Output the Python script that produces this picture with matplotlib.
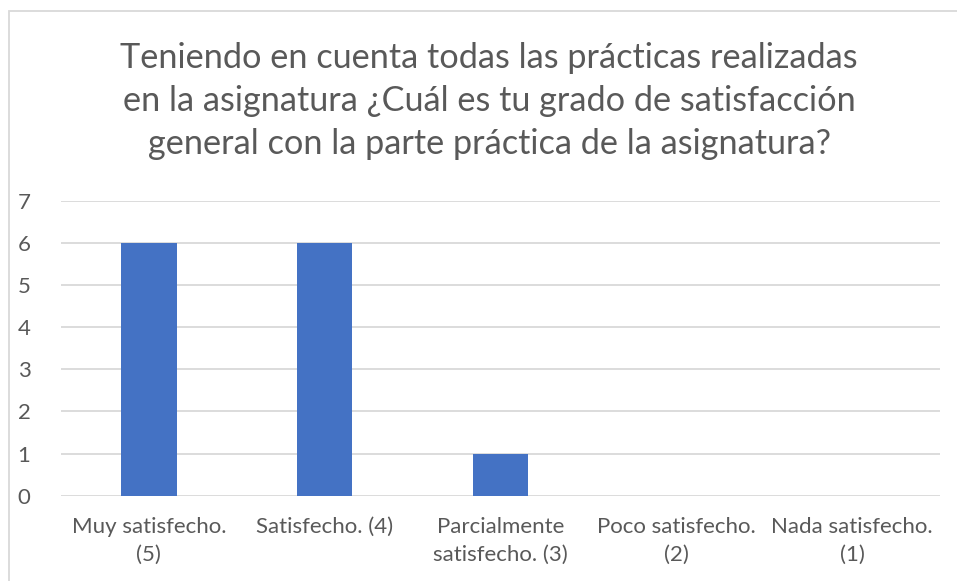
import matplotlib
matplotlib.use("Agg")
import matplotlib.pyplot as plt
import matplotlib.patches as mpatches
import numpy as np

# Datos
categorias = [
    "Muy satisfecho.\n(5)",
    "Satisfecho. (4)",
    "Parcialmente\nsatisfecho. (3)",
    "Poco satisfecho.\n(2)",
    "Nada satisfecho.\n(1)",
]
respuestas = [6, 6, 1, 0, 0]
y_ticks = [0, 1, 2, 3, 4, 5, 6, 7]

titulo = ("Teniendo en cuenta todas las prácticas realizadas\n"
          "en la asignatura ¿Cuál es tu grado de satisfacción\n"
          "general con la parte práctica de la asignatura?")

COLOR_BARRA = "#4472C4"
COLOR_TEXTO = "#595959"
COLOR_REJILLA = "#D9D9D9"

plt.rcParams["font.family"] = ["Lato", "DejaVu Sans"]

W, H = 957, 581
fig = plt.figure(figsize=(W / 100, H / 100), dpi=100)

# marco del gráfico (se sale por la derecha y por abajo)
marco = mpatches.Rectangle((9 / W, -0.05), 1.05, 1 - 11 / H + 0.05,
                           transform=fig.transFigure, fill=False,
                           edgecolor=COLOR_REJILLA, linewidth=1.3)
fig.patches.append(marco)

ax = fig.add_axes([61 / W, 85.3 / H, (940 - 61) / W, (495.7 - 200.7) / H])
x = np.arange(len(categorias))
ax.bar(x, respuestas, width=0.315, color=COLOR_BARRA, zorder=3)

ax.set_xlim(-0.5, len(categorias) - 0.5)
ax.set_ylim(0, 7)
ax.set_yticks(y_ticks)
ax.set_xticks(x)
ax.set_xticklabels(categorias, fontsize=16, color=COLOR_TEXTO, linespacing=1.55)
ax.tick_params(axis="y", length=0, pad=22, labelsize=16, labelcolor=COLOR_TEXTO)
ax.tick_params(axis="x", length=0, pad=15)
ax.grid(axis="y", color=COLOR_REJILLA, linewidth=1.3, zorder=0)
for s in ax.spines.values():
    s.set_visible(False)

fig.text(489 / W, 1 - 101 / H, titulo, ha="center", va="center",
         fontsize=24.7, color=COLOR_TEXTO, linespacing=1.42)

fig.savefig("out.png", dpi=100)
